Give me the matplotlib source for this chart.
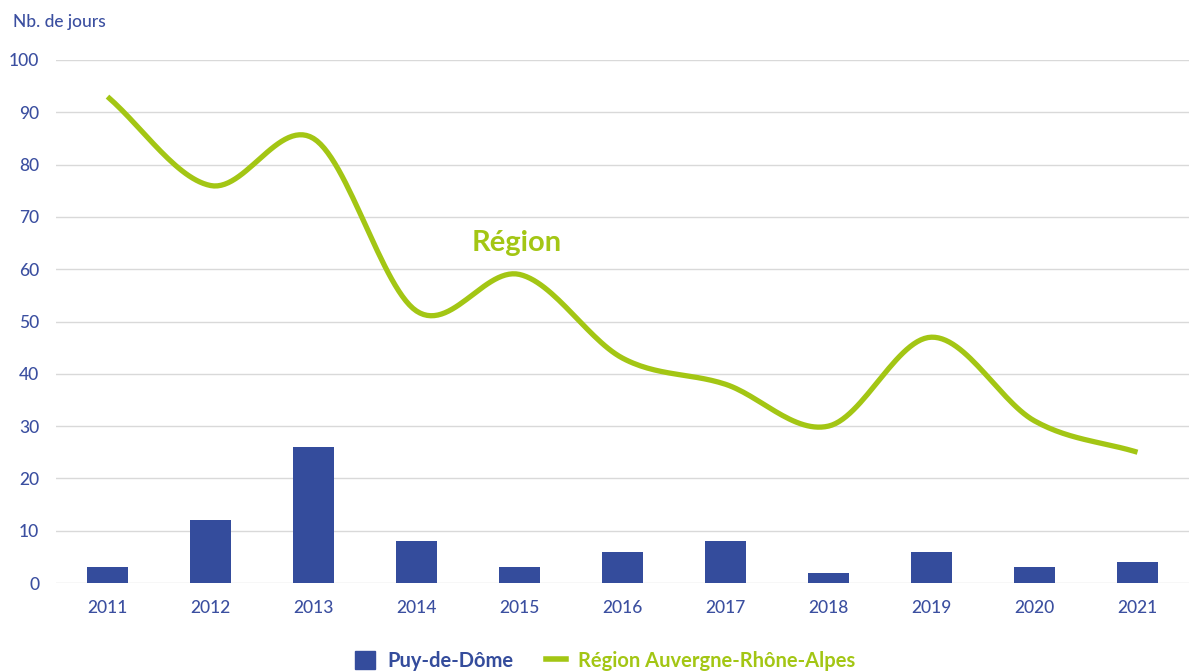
import matplotlib
matplotlib.use('Agg')
import matplotlib.pyplot as plt
import numpy as np
from matplotlib.lines import Line2D
from matplotlib.patches import Patch

years = ['2011', '2012', '2013', '2014', '2015', '2016', '2017', '2018', '2019', '2020', '2021']
puy_de_dome = [3, 12, 26, 8, 3, 6, 8, 2, 6, 3, 4]
region = [93, 76, 85, 52, 59, 43, 38, 30, 47, 31, 25]

BLUE = '#344c9c'
GREEN = '#a3c614'
TEXT = '#3b4fa0'

plt.rcParams['font.family'] = ['Lato', 'DejaVu Sans']


def smooth(xs, ys, n=30):
    # Catmull-Rom spline through the points (Excel-like smoothed line)
    xs = np.asarray(xs, float)
    ys = np.asarray(ys, float)
    px = np.concatenate([[2 * xs[0] - xs[1]], xs, [2 * xs[-1] - xs[-2]]])
    py = np.concatenate([[2 * ys[0] - ys[1]], ys, [2 * ys[-1] - ys[-2]]])
    out_x, out_y = [], []
    t = np.linspace(0, 1, n)
    for i in range(1, len(px) - 2):
        for p, out in ((px, out_x), (py, out_y)):
            p0, p1, p2, p3 = p[i - 1], p[i], p[i + 1], p[i + 2]
            seg = 0.5 * ((2 * p1) + (-p0 + p2) * t + (2 * p0 - 5 * p1 + 4 * p2 - p3) * t ** 2
                         + (-p0 + 3 * p1 - 3 * p2 + p3) * t ** 3)
            out.extend(seg)
    return np.array(out_x), np.array(out_y)


fig = plt.figure(figsize=(11.89, 6.72), dpi=100)
ax = fig.add_axes([56 / 1189, 1 - 583 / 672, 1 - 56 / 1189, (583 - 60) / 672])

x = np.arange(len(years))
ax.bar(x, puy_de_dome, width=0.4, color=BLUE, zorder=2)
sx, sy = smooth(x, region)
ax.plot(sx, sy, color=GREEN, lw=3.8, solid_capstyle='butt', zorder=3)

ax.set_xlim(-0.5, len(years) - 0.5)
ax.set_ylim(0, 100)
ax.set_yticks(range(0, 101, 10))
ax.set_xticks(x)
ax.set_xticklabels(years)
ax.grid(axis='y', color='#d9d9d9', lw=1, zorder=0)
for s in ax.spines.values():
    s.set_visible(False)
ax.tick_params(length=0, colors=TEXT, labelsize=12.5)
ax.tick_params(axis='y', pad=12)
ax.tick_params(axis='x', pad=12)
for lab in ax.get_xticklabels() + ax.get_yticklabels():
    lab.set_fontweight('medium')

fig.text(13 / 1189, 1 - 22 / 672, 'Nb. de jours', color=TEXT, fontsize=12.5,
         fontweight='medium', va='center', ha='left')
ax.text(3.97, 65, 'Région', color=GREEN, fontsize=21, fontweight='bold', ha='center', va='center')

handles = [Patch(color=BLUE, label='Puy-de-Dôme'),
           Line2D([0], [0], color=GREEN, lw=4, label='Région Auvergne-Rhône-Alpes')]
leg = fig.legend(handles=handles, loc='center', bbox_to_anchor=(605 / 1189, 1 - 661 / 672),
                 ncol=2, frameon=False, fontsize=14.5, handlelength=1.0, handleheight=1.0,
                 columnspacing=1.6, handletextpad=0.6)
leg.get_texts()[0].set_color(BLUE)
leg.get_texts()[1].set_color(GREEN)
for t in leg.get_texts():
    t.set_fontweight('bold')
leg.legend_handles[1].set_linewidth(4)

fig.savefig('out.png', dpi=100)
